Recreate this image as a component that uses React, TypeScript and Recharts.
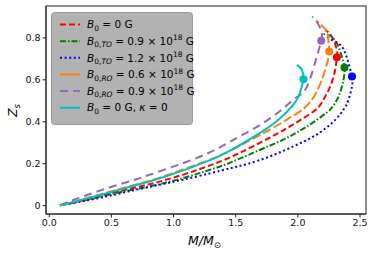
import React from "react";
import { Line, LineChart, ReferenceDot, XAxis, YAxis } from "recharts";

// curvas (M/Msol, Z_s)
const curvaB0: [number, number][] = [
  [0.086, 0.002], [0.247, 0.022], [0.515, 0.062], [0.811, 0.103], [1.079, 0.148],
  [1.294, 0.192], [1.455, 0.23], [1.63, 0.28], [1.844, 0.346], [1.978, 0.393],
  [2.139, 0.455], [2.206, 0.505], [2.26, 0.568], [2.3, 0.648], [2.314, 0.708],
  [2.314, 0.743], [2.274, 0.805], [2.22, 0.838],
];
const curvaTO09: [number, number][] = [
  [0.086, 0.002], [0.247, 0.02], [0.515, 0.057], [0.811, 0.092], [1.079, 0.132],
  [1.294, 0.171], [1.455, 0.205], [1.683, 0.263], [1.866, 0.31], [2.002, 0.352],
  [2.126, 0.398], [2.233, 0.444], [2.274, 0.468], [2.327, 0.52], [2.367, 0.6],
  [2.375, 0.659], [2.354, 0.711], [2.314, 0.775], [2.26, 0.81], [2.204, 0.819],
];
const curvaTO12: [number, number][] = [
  [0.086, 0.002], [0.408, 0.037], [0.623, 0.066], [0.891, 0.1], [1.079, 0.124],
  [1.294, 0.154], [1.455, 0.178], [1.59, 0.198], [1.777, 0.235], [1.965, 0.283],
  [2.115, 0.326], [2.228, 0.371], [2.308, 0.414], [2.367, 0.457], [2.407, 0.505],
  [2.435, 0.568], [2.435, 0.616], [2.407, 0.68], [2.381, 0.727], [2.341, 0.767],
  [2.274, 0.79], [2.233, 0.806],
];
const curvaRO06: [number, number][] = [
  [0.086, 0.002], [0.247, 0.026], [0.515, 0.071], [0.811, 0.119], [1.079, 0.173],
  [1.294, 0.219], [1.455, 0.262], [1.683, 0.333], [1.85, 0.388], [1.96, 0.428],
  [2.045, 0.462], [2.126, 0.517], [2.193, 0.6], [2.233, 0.675], [2.252, 0.735],
  [2.246, 0.79], [2.233, 0.833], [2.147, 0.883],
];
const curvaRO09: [number, number][] = [
  [0.086, 0.002], [0.274, 0.044], [0.515, 0.092], [0.704, 0.126], [0.811, 0.148],
  [1.079, 0.203], [1.294, 0.255], [1.455, 0.305], [1.63, 0.362], [1.817, 0.433],
  [1.952, 0.5], [2.018, 0.528], [2.071, 0.565], [2.119, 0.643], [2.159, 0.724],
  [2.188, 0.786], [2.193, 0.819], [2.172, 0.857], [2.115, 0.902],
];
const curvaKappa0: [number, number][] = [
  [0.086, 0.002], [0.247, 0.025], [0.515, 0.068], [0.811, 0.116], [1.079, 0.168],
  [1.294, 0.217], [1.455, 0.262], [1.683, 0.342], [1.844, 0.41], [1.952, 0.473],
  [2.005, 0.52], [2.025, 0.555], [2.045, 0.603], [2.032, 0.648], [1.992, 0.671],
];

// masa maxima de cada curva (los puntos)
const maximos: [number, number][] = [
  [2.314, 0.708], [2.375, 0.659], [2.435, 0.616], [2.252, 0.735], [2.188, 0.786], [2.045, 0.603],
];

const ticksX = [0, 0.5, 1, 1.5, 2, 2.5];
const ticksY = [0, 0.2, 0.4, 0.6, 0.8];

const series = [
  { id: "b0", curva: curvaB0, color: "#ff0000", dash: "6 3", muestra: "6 3" },
  { id: "to09", curva: curvaTO09, color: "#008000", dash: "6 2 1.5 2", muestra: "6 2 1.5 2" },
  { id: "to12", curva: curvaTO12, color: "#0000ff", dash: "2 2.6", muestra: "2 2.6" },
  { id: "ro06", curva: curvaRO06, color: "#ff7f0e", dash: "9 3", muestra: undefined },
  { id: "ro09", curva: curvaRO09, color: "#9467bd", dash: "8 5", muestra: "8 5" },
  { id: "k0", curva: curvaKappa0, color: "#00bfbf", dash: undefined, muestra: undefined },
];

const aPuntos = (c: [number, number][]) => c.map(([m, z]) => ({ m, z }));

const fuente = "DejaVu Sans, sans-serif";

// B con subindice y el resto de la etiqueta
const Etiqueta = ({ y, sub, valor, exp, resto }: { y: number; sub: string[]; valor: string; exp?: string; resto?: React.ReactNode }) => (
  <text x={87} y={y} fontSize={10.5} fontFamily={fuente} fill="#000">
    <tspan fontStyle="italic">B</tspan>
    <tspan fontSize={7.5} dy={2.5}>{sub[0]}</tspan>
    {sub[1] && <tspan fontSize={7.5} fontStyle="italic">{sub[1]}</tspan>}
    <tspan dy={-2.5}>{` = ${valor}`}</tspan>
    {exp && <tspan fontSize={7.5} dy={-4.5}>{exp}</tspan>}
    {exp ? <tspan dy={4.5}> G</tspan> : <tspan> G</tspan>}
    {resto}
  </text>
);

const filas = [
  { sub: ["0"], valor: "0" },
  { sub: ["0,", "TO"], valor: "0.9 × 10", exp: "18" },
  { sub: ["0,", "TO"], valor: "1.2 × 10", exp: "18" },
  { sub: ["0,", "RO"], valor: "0.6 × 10", exp: "18" },
  { sub: ["0,", "RO"], valor: "0.9 × 10", exp: "18" },
  { sub: ["0"], valor: "0", resto: <><tspan>, </tspan><tspan fontStyle="italic">κ</tspan><tspan> = 0</tspan></> },
];

const Leyenda = () => (
  <g>
    <rect x={51.5} y={12.5} width={141} height={112} rx={3} fill="#b2b2b2" stroke="#9a9a9a" />
    {series.map((s, i) => {
      const yc = 24.5 + 16.65 * i;
      const f = filas[i];
      return (
        <g key={s.id}>
          <line x1={60} y1={yc} x2={80} y2={yc} stroke={s.color} strokeWidth={2} strokeDasharray={s.muestra} />
          <Etiqueta y={yc + 3.7} sub={f.sub} valor={f.valor} exp={f.exp} resto={f.resto} />
        </g>
      );
    })}
  </g>
);

export default function App() {
  return (
    <div style={{ position: "absolute", left: 0, top: 0, width: 374, height: 255, background: "#fff" }}>
      <LineChart width={374} height={255} margin={{ top: 6, right: 8, bottom: 0, left: 0 }}>
        <XAxis
          type="number" dataKey="m" domain={[-0.026, 2.548]} ticks={ticksX} allowDataOverflow
          tickFormatter={(v: number) => v.toFixed(1)} height={41}
          stroke="#222" tickSize={3.5} tick={{ fontSize: 9.5, fill: "#111", fontFamily: fuente }}
        />
        <YAxis
          type="number" domain={[-0.04, 0.952]} ticks={ticksY} allowDataOverflow width={46}
          tickFormatter={(v: number) => (v === 0 ? "0" : v.toFixed(1))}
          stroke="#222" tickSize={3.5} tick={{ fontSize: 9.5, fill: "#111", fontFamily: fuente }}
        />
        {series.map((s) => (
          <Line
            key={s.id} data={aPuntos(s.curva)} dataKey="z" type="natural" stroke={s.color}
            strokeWidth={2} strokeDasharray={s.dash} dot={false} isAnimationActive={false}
          />
        ))}
        {maximos.map(([m, z], i) => (
          <ReferenceDot key={i} x={m} y={z} r={4} fill={series[i].color} stroke="none" />
        ))}
      </LineChart>
      <svg style={{ position: "absolute", left: 0, top: 0, pointerEvents: "none" }} width={374} height={255}>
        <rect x={46} y={6} width={320} height={208} fill="none" stroke="#222" strokeWidth={1} />
        <Leyenda />
        <text x={188} y={245} fontSize={12.5} fontFamily={fuente} fontStyle="italic" fill="#000">
          M/M<tspan fontSize={8.5} dy={3} fontStyle="normal">⊙</tspan>
        </text>
        <text transform="translate(17,117) rotate(-90)" fontSize={12.5} fontFamily={fuente} fontStyle="italic" fill="#000">
          Z<tspan fontSize={8.5} dy={3}>s</tspan>
        </text>
      </svg>
    </div>
  );
}
